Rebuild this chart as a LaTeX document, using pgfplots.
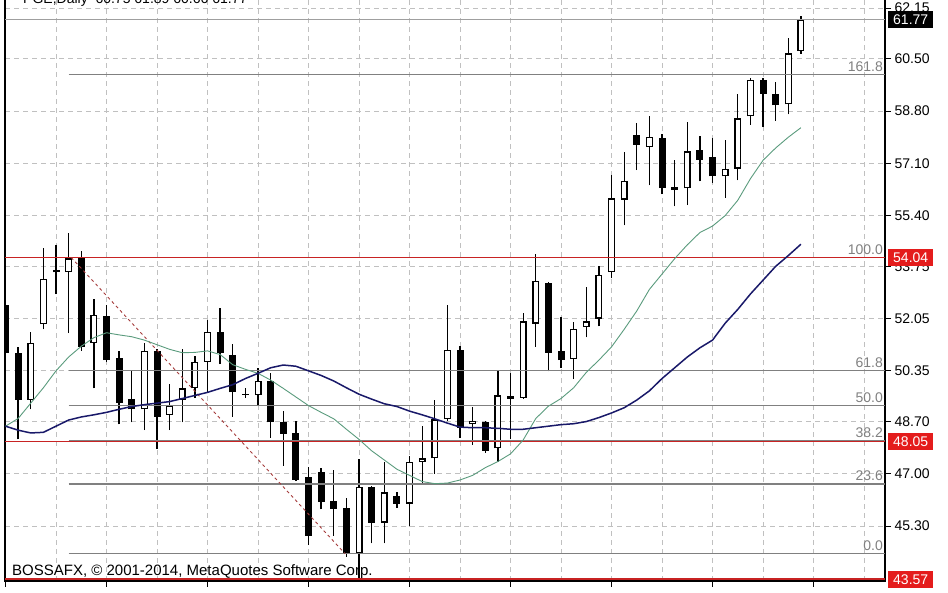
\documentclass[border=0pt]{standalone}
\usepackage{fontspec}
\setmainfont{Liberation Sans}
\usepackage{pgfplots}
\usepackage{pgfplotstable}
\pgfplotsset{compat=1.18}

\definecolor{gridc}{RGB}{192,192,192}
\definecolor{fibc}{RGB}{128,128,128}
\definecolor{lvlred}{RGB}{200,35,35}
\definecolor{boxred}{RGB}{228,28,28}
\definecolor{mafast}{RGB}{90,155,125}
\definecolor{maslow}{RGB}{25,25,105}
\definecolor{trendc}{RGB}{165,60,60}

% bullish candles: bar, low, open, close, high
\pgfplotstableread{
k lo bb bt hi
2 49.10 49.41 51.25 51.62
3 51.70 51.87 53.34 54.36
5 51.58 53.56 54.01 54.85
7 49.78 51.25 52.17 52.69
11 48.42 49.10 51.00 51.25
13 48.42 48.92 49.22 49.92
14 48.67 49.41 49.78 51.07
15 49.47 49.78 50.64 50.82
16 49.65 50.64 51.62 51.99
20 49.22 49.56 50.02 50.45
28 43.57 44.43 46.58 47.47
30 44.74 45.41 46.40 47.38
32 45.29 46.03 47.38 47.57
33 46.64 47.38 47.50 48.55
34 47.01 47.50 48.77 49.41
35 48.73 48.77 51.03 52.50
37 47.94 48.61 48.73 49.16
39 47.38 47.83 49.55 50.39
41 49.43 49.47 51.96 52.23
42 51.13 51.89 53.28 54.14
45 50.08 50.73 51.71 51.93
46 51.44 51.77 51.96 53.09
47 51.80 52.05 53.46 53.77
48 53.36 53.56 55.96 56.72
49 55.08 55.92 56.53 57.46
51 56.38 57.64 57.95 58.65
54 55.74 56.29 57.49 58.44
57 55.98 56.68 56.92 57.87
58 56.55 56.93 58.56 59.36
59 58.36 58.63 59.82 59.88
62 58.69 59.02 60.68 61.17
63 60.66 60.75 61.77 61.89
}\bull

% bearish candles: bar, low, close, open, high
\pgfplotstableread{
k lo bb bt hi
0 49.84 50.94 52.48 52.66
1 48.12 49.41 50.94 51.13
4 52.85 53.55 53.62 54.45
6 51.00 51.13 54.01 54.26
8 50.64 50.70 52.14 52.50
9 48.61 49.32 50.76 50.98
10 48.67 49.10 49.43 50.33
12 47.81 48.85 51.00 51.05
17 50.57 50.94 51.62 52.38
18 48.85 49.65 50.88 51.23
19 49.47 49.57 49.61 49.78
21 48.17 48.67 50.02 50.27
22 47.26 48.30 48.70 49.04
23 46.76 46.80 48.33 48.73
24 44.68 44.98 46.89 47.22
25 45.84 46.09 47.05 47.20
26 44.98 45.87 46.11 47.13
27 44.31 44.43 45.90 46.21
29 44.74 45.41 46.58 46.60
31 45.90 46.03 46.27 46.40
36 48.18 48.49 51.03 51.15
38 47.69 47.75 48.70 48.72
40 48.12 49.45 49.52 50.27
43 50.33 50.94 53.22 53.24
44 50.45 50.70 51.00 52.09
50 56.88 57.70 58.03 58.40
52 56.10 56.31 57.91 58.07
53 55.70 56.23 56.33 57.21
55 56.51 57.21 57.52 57.99
56 56.47 56.68 57.30 57.91
60 58.29 59.36 59.82 59.88
61 58.48 58.99 59.36 59.76
}\bear

\pgfplotsset{candle/.style={draw=none, mark=none, mark size=0pt, forget plot,
    error bars/y dir=plus, error bars/y explicit, error bars/error mark=none,
    error bars/error mark options={draw=none, mark size=0pt}}}

\begin{document}
\begin{tikzpicture}[font=\fontsize{14}{16}\selectfont]
\begin{axis}[
    name=ax,
    scale only axis,
    width=880pt, height=591pt,
    xmin=-0.04, xmax=69.66,
    ymin=43.514, ymax=62.74,
    axis line style={black, line width=1.1pt},
    xtick={0,8,...,64}, minor xtick={4,12,...,68},
    xticklabels={},
    ytick={45.30,47.00,48.70,50.35,52.05,53.75,55.40,57.10,58.80,60.50,62.15},
    yticklabels={45.30,47.00,48.70,50.35,52.05,53.75,55.40,57.10,58.80,60.50,62.15},
    xtick pos=left, ytick pos=right, yticklabel pos=right,
    tick align=outside,
    major tick length=6pt, minor tick length=0pt,
    tick style={black, line width=0.9pt},
    yticklabel style={anchor=west},
    grid=both,
    major grid style={gridc, line width=0.8pt, dash pattern=on 5pt off 4pt},
    minor grid style={gridc, line width=0.8pt, dash pattern=on 5pt off 4pt},
]

% wicks
\addplot[candle, error bars/error bar style={draw=black, line width=1.3pt}]
    table[x=k, y=lo, y error plus expr=\thisrow{hi}-\thisrow{lo}] {\bull};
\addplot[candle, error bars/error bar style={draw=black, line width=1.3pt}]
    table[x=k, y=lo, y error plus expr=\thisrow{hi}-\thisrow{lo}] {\bear};

% bodies
\addplot[candle, error bars/error bar style={draw=black, line width=7pt, line cap=butt}]
    table[x=k, y=bb, y error plus expr=\thisrow{bt}-\thisrow{bb}] {\bear};
\addplot[candle, error bars/error bar style={draw=black, line width=7pt, line cap=butt}]
    table[x=k, y=bb, y error plus expr=\thisrow{bt}-\thisrow{bb}] {\bull};
\addplot[candle, error bars/error bar style={draw=white, line width=4.4pt, line cap=butt}]
    table[x=k, y expr=\thisrow{bb}+0.04, y error plus expr=\thisrow{bt}-\thisrow{bb}-0.08] {\bull};

% level lines
\addplot[draw=lvlred, line width=1.8pt] coordinates {(-0.04,48.05) (69.66,48.05)};
\addplot[draw=gray!75, line width=1pt] coordinates {(-0.04,61.77) (69.66,61.77)};
\pgfplotsinvokeforeach{44.40,46.67,48.08,49.22,50.36,60.00}{
  \addplot[draw=fibc, line width=1.1pt] coordinates {(5,#1) (69.66,#1)};
}
\addplot[draw=lvlred, line width=1.8pt] coordinates {(-0.04,54.04) (69.66,54.04)};
\addplot[draw=lvlred, line width=1.8pt] coordinates {(-0.04,43.57) (69.66,43.57)};
\addplot[draw=trendc, line width=0.9pt, dash pattern=on 3pt off 3pt] coordinates {(5.2,54.04) (26.9,44.40)};

% moving averages
\addplot[draw=mafast, line width=0.9pt] coordinates {
(0,48.55)(1,48.80)(2,49.30)(3,49.80)(4,50.35)(5,50.80)(6,51.15)(7,51.43)(8,51.59)(9,51.52)
(10,51.46)(11,51.35)(12,51.20)(13,51.05)(14,50.94)(15,50.95)(16,51.00)(17,50.88)(18,50.55)(19,50.40)
(20,50.27)(21,50.05)(22,49.78)(23,49.50)(24,49.22)(25,49.00)(26,48.79)(27,48.45)(28,48.12)(29,47.75)
(30,47.45)(31,47.15)(32,46.95)(33,46.75)(34,46.68)(35,46.70)(36,46.80)(37,46.95)(38,47.20)(39,47.40)
(40,47.65)(41,48.10)(42,48.80)(43,49.20)(44,49.45)(45,49.80)(46,50.30)(47,50.70)(48,51.13)(49,51.70)
(50,52.30)(51,53.00)(52,53.50)(53,54.00)(54,54.45)(55,54.85)(56,55.06)(57,55.40)(58,55.90)(59,56.60)
(60,57.20)(61,57.60)(62,57.95)(63,58.26)};
\addplot[draw=maslow, line width=1.5pt] coordinates {
(0,48.55)(1,48.42)(2,48.33)(3,48.35)(4,48.55)(5,48.75)(6,48.85)(7,48.92)(8,49.00)(9,49.10)
(10,49.19)(11,49.25)(12,49.30)(13,49.35)(14,49.45)(15,49.55)(16,49.65)(17,49.78)(18,49.90)(19,50.10)
(20,50.27)(21,50.45)(22,50.54)(23,50.50)(24,50.35)(25,50.20)(26,50.02)(27,49.80)(28,49.59)(29,49.43)
(30,49.28)(31,49.19)(32,49.04)(33,48.92)(34,48.79)(35,48.65)(36,48.52)(37,48.50)(38,48.50)(39,48.48)
(40,48.45)(41,48.45)(42,48.50)(43,48.55)(44,48.60)(45,48.63)(46,48.70)(47,48.83)(48,48.98)(49,49.15)
(50,49.40)(51,49.70)(52,50.10)(53,50.45)(54,50.80)(55,51.10)(56,51.35)(57,51.90)(58,52.35)(59,52.85)
(60,53.30)(61,53.75)(62,54.10)(63,54.47)};

\coordinate (p1) at (axis cs:69.66,61.77);
\coordinate (p2) at (axis cs:69.66,54.04);
\coordinate (p3) at (axis cs:69.66,48.05);
\coordinate (p4) at (axis cs:69.66,43.57);
\coordinate (f1) at (axis cs:69.66,60.00);
\coordinate (f2) at (axis cs:69.66,54.04);
\coordinate (f3) at (axis cs:69.66,50.36);
\coordinate (f4) at (axis cs:69.66,49.22);
\coordinate (f5) at (axis cs:69.66,48.08);
\coordinate (f6) at (axis cs:69.66,46.67);
\coordinate (f7) at (axis cs:69.66,44.40);
\end{axis}

% fibo labels
\foreach \c/\t in {f1/161.8, f2/100.0, f3/61.8, f4/50.0, f5/38.2, f6/23.6, f7/0.0}
  \node[anchor=base east, text=fibc, inner sep=0pt] at ([xshift=-2pt, yshift=3pt]\c) {\t};

% price boxes
\tikzset{pbox/.style={anchor=west, text=white, inner xsep=5pt, inner ysep=0pt,
  minimum height=17pt, text height=10pt, text depth=0pt}}
\node[pbox, fill=black] at ([xshift=3pt]p1) {61.77};
\node[pbox, fill=boxred] at ([xshift=3pt]p2) {54.04};
\node[pbox, fill=boxred] at ([xshift=3pt]p3) {48.05};
\node[pbox, fill=boxred] at ([xshift=3pt]p4) {43.57};

\node[anchor=base west, inner sep=0pt, font=\fontsize{15}{17}\selectfont]
  at ([xshift=7pt, yshift=5pt]ax.south west) {BOSSAFX, © 2001-2014, MetaQuotes Software Corp.};
\node[anchor=base west, inner sep=0pt]
  at ([xshift=18pt, yshift=-14pt]ax.north west) {PGE,Daily\ \ 60.75 61.89 60.66 61.77};

\pgfresetboundingbox
\useasboundingbox ([xshift=-5pt, yshift=-12pt]ax.south west) rectangle ([xshift=63pt, yshift=-10pt]ax.north east);
\end{tikzpicture}
\end{document}
